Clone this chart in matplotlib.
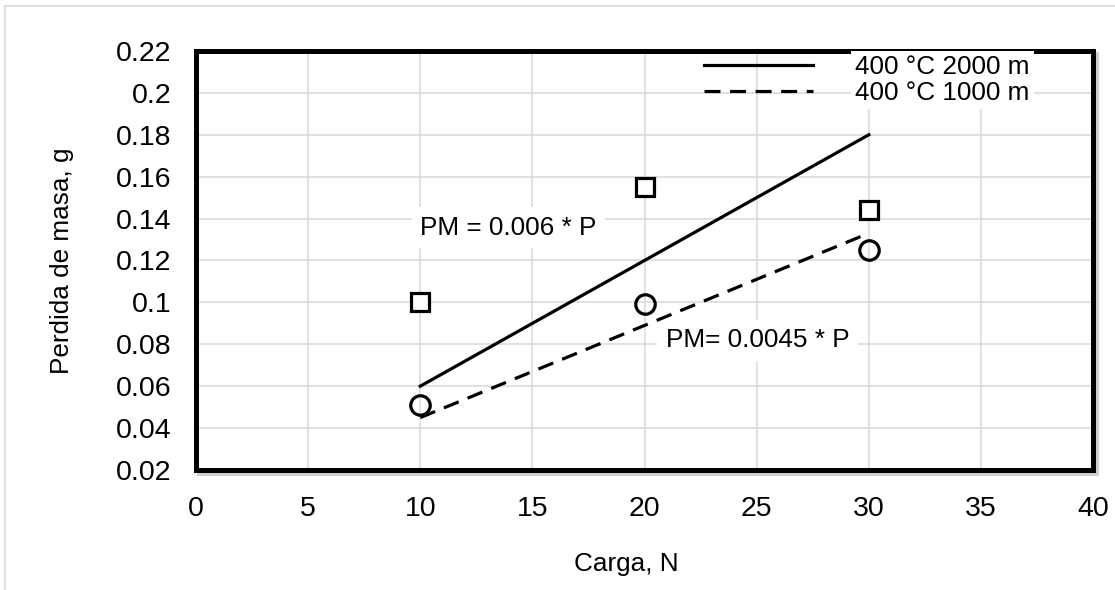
import matplotlib.pyplot as plt
from matplotlib.patches import Rectangle
from matplotlib.ticker import FuncFormatter

plt.rcParams['font.family'] = ['Liberation Sans', 'DejaVu Sans']

# measured points
carga = [10, 20, 30]
pm_2000 = [0.100, 0.155, 0.144]
pm_1000 = [0.051, 0.099, 0.125]

# fitted lines (end points)
fit_x = [10, 30]
fit_2000 = [0.060, 0.180]
fit_1000 = [0.045, 0.133]

labels = ["400 °C 2000 m", "400 °C 1000 m"]
eq_2000 = "PM = 0.006 * P"
eq_1000 = "PM= 0.0045 * P"

fs_tick = 20.5
fs = 18.8

fig = plt.figure(figsize=(11.15, 5.9), dpi=100)
ax = fig.add_axes([0.1758, 0.2034, 0.8045, 0.7102])

# outer border of the chart area (only top/left visible)
fig.patches.append(Rectangle((5/1115, -0.05), 1.1, 1 - 5.5/590 + 0.05,
                             transform=fig.transFigure, fill=False,
                             edgecolor='#d9d9d9', lw=1.2, zorder=-2))
# faint shadow of the plot frame
fig.patches.append(Rectangle((0.1758 + 3/1115, 0.2034 - 3/590), 0.8045, 0.7102,
                             transform=fig.transFigure, fill=False,
                             edgecolor='#cfcfcf', lw=3.5, zorder=-1))

ax.plot(fit_x, fit_2000, color='black', lw=2.3, label=labels[0], zorder=3)
ax.plot(fit_x, fit_1000, color='black', lw=2.3, ls=(0, (5, 3)), label=labels[1], zorder=3)
ax.plot(carga, pm_2000, ls='none', marker='s', ms=13.5, mfc='white', mec='black', mew=2.3, zorder=4)
ax.plot(carga, pm_1000, ls='none', marker='o', ms=14, mfc='none', mec='black', mew=2.3, zorder=4)

ax.text(10, 0.1357, eq_2000, fontsize=fs, va='center', ha='left', zorder=2,
        bbox=dict(facecolor='white', edgecolor='none', pad=6))
ax.text(20.95, 0.0819, eq_1000, fontsize=fs, va='center', ha='left', zorder=2,
        bbox=dict(facecolor='white', edgecolor='none', pad=6))

ax.set_xlim(0, 40)
ax.set_ylim(0.02, 0.22)
ax.set_xticks(range(0, 41, 5))
ax.set_yticks([0.02 + 0.02*i for i in range(11)])
ax.yaxis.set_major_formatter(FuncFormatter(lambda v, p: f"{v:.2f}".rstrip('0')))
ax.tick_params(length=0, labelsize=fs_tick)
ax.tick_params(axis='y', pad=18)
ax.tick_params(axis='x', pad=19)
ax.grid(True, color='#d9d9d9', lw=1.1)
ax.set_axisbelow(True)
for s in ax.spines.values():
    s.set_linewidth(3.6)
    s.set_color('black')

ax.set_xlabel("Carga, N", fontsize=fs)
ax.set_ylabel("Perdida de masa, g", fontsize=fs)
ax.xaxis.set_label_coords(0.48, -0.195)
ax.yaxis.set_label_coords(-0.136, 0.5)

leg = ax.legend(loc='upper right', bbox_to_anchor=(0.941, 1.015), frameon=False,
                fontsize=fs, handlelength=4.2, handletextpad=1.6, labelspacing=0.08,
                borderaxespad=0)
for t in leg.get_texts():
    t.set_bbox(dict(facecolor='white', edgecolor='none', pad=3))

fig.savefig("out.png", dpi=100)
